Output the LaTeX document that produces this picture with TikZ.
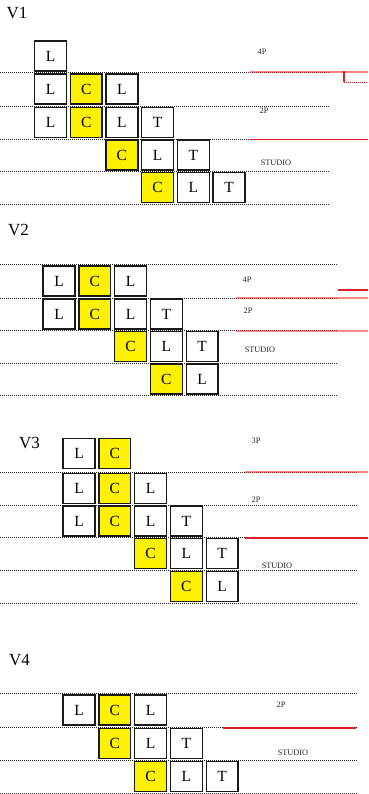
\documentclass[tikz,border=0pt]{standalone}
\usepackage{fontspec}
\setmainfont{Liberation Serif}
\begin{document}
\begin{tikzpicture}[x=1pt,y=-1pt,
  cellbox/.style={draw=black!90,line width=1.4pt,minimum width=31.8pt,minimum height=29.8pt,inner sep=0pt,fill=white,font=\fontsize{15.5}{16}\selectfont},
  ycell/.style={cellbox,fill=yelc},
  vlabel/.style={inner sep=0pt,font=\fontsize{17}{18}\selectfont},
  flabel/.style={inner sep=0pt,text=black!85,font=\fontsize{8.3}{9}\selectfont},
  floorline/.style={line width=0.6pt,dash pattern=on 1pt off 1pt,black!85},
  redline/.style={line width=1.1pt,draw=redc},
  pinkline/.style={line width=1.6pt,red!85,opacity=0.55},
]
\definecolor{yelc}{RGB}{255,242,0}
\definecolor{redc}{RGB}{225,30,40}
\useasboundingbox (0,0) rectangle (368,794);
\fill[white] (0,0) rectangle (368,794);

% ================= V1 =================
\node[vlabel] (v1) at (17,13) {V1};
\foreach \yy in {72,106,139,171,204} \draw[floorline] (0,\yy) -- (330,\yy);
\draw[pinkline] (250,72) -- (368,72);
\draw[redline] (344,71) -- (344,82);
\draw[redline,line width=0.6pt,dash pattern=on 1pt off 1pt] (344,82) -- (368,82);
\fill[redc] (250,138.6) rectangle (368,140.0);
\node[flabel] (v1a) at (262,52) {4P};
\node[flabel] (v1b) at (264,111) {2P};
\node[flabel] (v1c) at (276,163) {STUDIO};
\node[cellbox] (a00) at (50.5,56) {L};
\node[cellbox] (a10) at (50.5,89) {L};
\node[ycell]   (a11) at (86.2,89) {C};
\node[cellbox] (a12) at (121.9,89) {L};
\node[cellbox] (a20) at (50.5,122.5) {L};
\node[ycell]   (a21) at (86.2,122.5) {C};
\node[cellbox] (a22) at (121.9,122.5) {L};
\node[cellbox] (a23) at (157.6,122.5) {T};
\node[ycell]   (a32) at (121.9,155) {C};
\node[cellbox] (a33) at (157.6,155) {L};
\node[cellbox] (a34) at (193.3,155) {T};
\node[ycell]   (a43) at (157.6,187.5) {C};
\node[cellbox] (a44) at (193.3,187.5) {L};
\node[cellbox] (a45) at (229,187.5) {T};

% ================= V2 =================
\node[vlabel] (v2) at (18.5,230) {V2};
\foreach \yy in {264,298,330,363,395} \draw[floorline] (0,\yy) -- (338,\yy);
\draw[pinkline] (236,298) -- (368,298);
\draw[pinkline] (236,331) -- (368,331);
\draw[redline] (338,290) -- (368,290);
\node[flabel] (v2a) at (247,280) {4P};
\node[flabel] (v2b) at (248,311) {2P};
\node[flabel] (v2c) at (260,350) {STUDIO};
\node[cellbox] (b00) at (59,281) {L};
\node[ycell]   (b01) at (94.8,281) {C};
\node[cellbox] (b02) at (130.6,281) {L};
\node[cellbox] (b10) at (59,314) {L};
\node[ycell]   (b11) at (94.8,314) {C};
\node[cellbox] (b12) at (130.6,314) {L};
\node[cellbox] (b13) at (166.4,314) {T};
\node[ycell]   (b22) at (130.6,346.5) {C};
\node[cellbox] (b23) at (166.4,346.5) {L};
\node[cellbox] (b24) at (202.2,346.5) {T};
\node[ycell]   (b33) at (166.4,379) {C};
\node[cellbox] (b34) at (202.2,379) {L};

% ================= V3 =================
\node[vlabel] (v3) at (29.5,443) {V3};
\foreach \yy in {472,505,537,570,603} \draw[floorline] (0,\yy) -- (358,\yy);
\draw[pinkline] (245,472) -- (368,472);
\draw[redline] (245,538) -- (368,538);
\node[flabel] (v3a) at (256,441) {3P};
\node[flabel] (v3b) at (256,500) {2P};
\node[flabel] (v3c) at (277,566) {STUDIO};
\node[cellbox] (c00) at (79,453.5) {L};
\node[ycell]   (c01) at (114.8,453.5) {C};
\node[cellbox] (c10) at (79,488.5) {L};
\node[ycell]   (c11) at (114.8,488.5) {C};
\node[cellbox] (c12) at (150.6,488.5) {L};
\node[cellbox] (c20) at (79,521) {L};
\node[ycell]   (c21) at (114.8,521) {C};
\node[cellbox] (c22) at (150.6,521) {L};
\node[cellbox] (c23) at (186.4,521) {T};
\node[ycell]   (c32) at (150.6,553.5) {C};
\node[cellbox] (c33) at (186.4,553.5) {L};
\node[cellbox] (c34) at (222.2,553.5) {T};
\node[ycell]   (c43) at (186.4,586.5) {C};
\node[cellbox] (c44) at (222.2,586.5) {L};

% ================= V4 =================
\node[vlabel] (v4) at (19.5,660) {V4};
\foreach \yy in {693,727,760,793} \draw[floorline] (0,\yy) -- (358,\yy);
\draw[redline] (223,728) -- (356,728);
\node[flabel] (v4a) at (281,705) {2P};
\node[flabel] (v4b) at (293,753) {STUDIO};
\node[cellbox] (d00) at (79,710) {L};
\node[ycell]   (d01) at (114.8,710) {C};
\node[cellbox] (d02) at (150.6,710) {L};
\node[ycell]   (d11) at (114.8,743.5) {C};
\node[cellbox] (d12) at (150.6,743.5) {L};
\node[cellbox] (d13) at (186.4,743.5) {T};
\node[ycell]   (d22) at (150.6,776.5) {C};
\node[cellbox] (d23) at (186.4,776.5) {L};
\node[cellbox] (d24) at (222.2,776.5) {T};
\end{tikzpicture}
\end{document}
